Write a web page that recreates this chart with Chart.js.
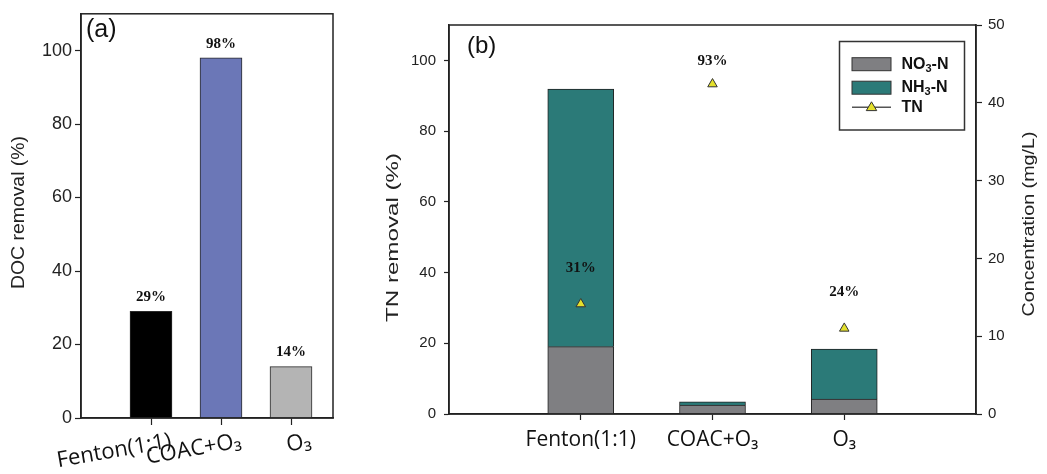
<!DOCTYPE html>
<html>
<head>
<meta charset="utf-8">
<script src="https://cdn.jsdelivr.net/npm/chart.js@4.4.1/dist/chart.umd.min.js"></script>
<style>
  html, body { margin: 0; padding: 0; background: #ffffff; }
  #wrap { position: relative; width: 1047px; height: 474px; overflow: hidden; }
  #ca { position: absolute; left: 0; top: 0; }
  #cb { position: absolute; left: 380px; top: 0; }
</style>
</head>
<body>
<div id="wrap">
  <canvas id="ca" width="380" height="474"></canvas>
  <canvas id="cb" width="667" height="474"></canvas>
</div>
<script>
// ---------------- data ----------------
const categories = ['Fenton(1:1)', 'COAC+O₃', 'O₃'];
const docRemoval = [29, 98, 14];
const docLabels = ['29%', '98%', '14%'];
const docColors = ['#000000', '#6b77b7', '#b4b4b4'];
const no3N = [8.65, 1.15, 1.93];
const nh3N = [33.1, 0.43, 6.42];
const tnRemoval = [31.1, 93.3, 24.2];
const tnLabels = ['31%', '93%', '24%'];
const removalTicksA = [0, 20, 40, 60, 80, 100];
const removalTicksB = [0, 20, 40, 60, 80, 100];
const concTicks = [0, 10, 20, 30, 40, 50];

Chart.defaults.font.family = '"Liberation Sans", Arial, sans-serif';
Chart.defaults.color = '#222';

const AXIS = '#222';

// draw text with subscript digits
const SUBS = '₀₁₂₃₄₅₆₇₈₉';
function drawRich(ctx, text, x, y, size, weight) {
  let cx = x;
  let buf = '';
  const flush = (sub) => {
    if (!buf) return;
    ctx.font = weight + ' ' + (sub ? Math.round(size * 0.68) : size) + 'px "Liberation Sans", Arial, sans-serif';
    ctx.fillText(buf, cx, y + (sub ? size * 0.28 : 0));
    cx += ctx.measureText(buf).width;
    buf = '';
  };
  let curSub = false;
  for (const ch of text) {
    const idx = SUBS.indexOf(ch);
    const isSub = idx >= 0;
    if (isSub !== curSub) { flush(curSub); curSub = isSub; }
    buf += isSub ? String(idx) : ch;
  }
  flush(curSub);
}

// ---------------- plugins ----------------
const framePlugin = {
  id: 'frame',
  afterDraw(chart) {
    const { ctx, chartArea: a } = chart;
    ctx.save();
    ctx.strokeStyle = AXIS;
    ctx.lineWidth = 1.5;
    ctx.strokeRect(a.left, a.top, a.right - a.left, a.bottom - a.top);
    ctx.restore();
  }
};

const valueLabels = {
  id: 'valueLabels',
  afterDatasetsDraw(chart, args, opts) {
    const meta = chart.getDatasetMeta(opts.datasetIndex);
    const ctx = chart.ctx;
    ctx.save();
    ctx.font = 'bold 15px "Liberation Serif", "Times New Roman", serif';
    ctx.fillStyle = '#111';
    ctx.textAlign = 'center';
    ctx.textBaseline = 'middle';
    meta.data.forEach((el, i) => {
      let y = el.y - opts.offset;
      if (opts.minTop != null) y = Math.max(y, chart.chartArea.top + opts.minTop);
      ctx.fillText(opts.labels[i], el.x, y);
    });
    ctx.restore();
  }
};

const axisTitles = {
  id: 'axisTitles',
  afterDraw(chart, args, opts) {
    const ctx = chart.ctx;
    (opts.items || []).forEach(t => {
      ctx.save();
      ctx.font = t.size + 'px "Liberation Sans", Arial, sans-serif';
      ctx.fillStyle = '#222';
      ctx.textAlign = 'center';
      ctx.textBaseline = 'middle';
      ctx.translate(t.x, t.y);
      ctx.rotate(-Math.PI / 2);
      const w = ctx.measureText(t.text).width;
      ctx.scale(t.length / w, 1);
      ctx.fillText(t.text, 0, 0);
      ctx.restore();
    });
    if (opts.panel) {
      ctx.save();
      ctx.font = opts.panel.size + 'px "Liberation Sans", Arial, sans-serif';
      ctx.fillStyle = '#111';
      ctx.textAlign = 'left';
      ctx.textBaseline = 'middle';
      ctx.fillText(opts.panel.text, opts.panel.x, opts.panel.y);
      ctx.restore();
    }
  }
};

const boxLegend = {
  id: 'boxLegend',
  afterDraw(chart, args, opts) {
    const ctx = chart.ctx;
    const ds = chart.data.datasets;
    ctx.save();
    ctx.fillStyle = '#fff';
    ctx.fillRect(opts.x, opts.y, opts.w, opts.h);
    ctx.strokeStyle = '#333';
    ctx.lineWidth = 1.5;
    ctx.strokeRect(opts.x, opts.y, opts.w, opts.h);
    const sx = opts.x + 12.5, sw = 39;
    const rows = [64.2, 87.7, 107.3];
    ds.forEach((d, i) => {
      const cy = rows[i];
      if (d.type === 'line') {
        ctx.strokeStyle = '#555';
        ctx.lineWidth = 1.5;
        ctx.beginPath(); ctx.moveTo(sx, cy); ctx.lineTo(sx + sw, cy); ctx.stroke();
        const r = 5.5, tx = sx + sw / 2;
        ctx.beginPath();
        ctx.moveTo(tx, cy - r);
        ctx.lineTo(tx + r * 0.95, cy + r * 0.6);
        ctx.lineTo(tx - r * 0.95, cy + r * 0.6);
        ctx.closePath();
        ctx.fillStyle = d.backgroundColor; ctx.fill();
        ctx.strokeStyle = '#333'; ctx.lineWidth = 1; ctx.stroke();
      } else {
        ctx.fillStyle = d.backgroundColor;
        ctx.fillRect(sx, cy - 6.5, sw, 13);
        ctx.strokeStyle = '#333'; ctx.lineWidth = 1;
        ctx.strokeRect(sx, cy - 6.5, sw, 13);
      }
      ctx.fillStyle = '#111';
      ctx.textAlign = 'left';
      ctx.textBaseline = 'middle';
      drawRich(ctx, d.label, opts.x + 62, cy, 16, 'bold');
    });
    ctx.restore();
  }
};

// ---------------- chart (a) ----------------
new Chart(document.getElementById('ca'), {
  type: 'bar',
  data: {
    datasets: [{
      label: 'DOC removal',
      data: docRemoval.map((v, i) => ({ x: i + 1, y: v })),
      backgroundColor: docColors,
      borderColor: '#2a2a2a',
      borderWidth: 1,
      barThickness: 42
    }]
  },
  options: {
    responsive: false,
    animation: false,
    layout: { padding: { top: 7, right: 47, left: 0, bottom: 0 } },
    scales: {
      x: {
        type: 'linear', min: 0, max: 3.6, offset: false,
        afterBuildTicks: s => { s.ticks = categories.map((c, i) => ({ value: i + 1 })); },
        afterFit: s => { s.height = 56; },
        ticks: {
          callback: v => categories[v - 1],
          autoSkip: false, minRotation: 10, maxRotation: 10,
          labelOffset: 20, padding: 3,
          font: { family: '"Open Sans", sans-serif', size: 22 }, color: '#111'
        },
        grid: { offset: false, drawOnChartArea: false, tickLength: 7, color: AXIS, tickWidth: 1.2 },
        border: { color: AXIS, width: 1.5 }
      },
      y: {
        min: 0, max: 110,
        afterBuildTicks: s => { s.ticks = removalTicksA.map(v => ({ value: v })); },
        afterFit: s => { s.width = 81; },
        ticks: { padding: 3, font: { size: 18 }, color: '#222' },
        grid: { drawOnChartArea: false, tickLength: 6, color: AXIS, tickWidth: 1.2 },
        border: { color: AXIS, width: 1.5 }
      }
    },
    plugins: {
      legend: { display: false },
      tooltip: { enabled: false },
      valueLabels: { datasetIndex: 0, labels: docLabels, offset: 14 },
      axisTitles: {
        items: [{ text: 'DOC removal (%)', x: 19, y: 212.5, size: 19, length: 153 }],
        panel: { text: '(a)', x: 86, y: 30, size: 25 }
      }
    }
  },
  plugins: [framePlugin, valueLabels, axisTitles]
});

// ---------------- chart (b) ----------------
new Chart(document.getElementById('cb'), {
  type: 'bar',
  data: {
    datasets: [
      {
        label: 'NO₃-N',
        data: no3N.map((v, i) => ({ x: i + 1, y: v })),
        backgroundColor: '#7f7f82', borderColor: '#222', borderWidth: 1,
        barThickness: 66, stack: 'n', yAxisID: 'y1', order: 1
      },
      {
        label: 'NH₃-N',
        data: nh3N.map((v, i) => ({ x: i + 1, y: v })),
        backgroundColor: '#2b7a78', borderColor: '#222', borderWidth: 1,
        barThickness: 66, stack: 'n', yAxisID: 'y1', order: 1
      },
      {
        type: 'line',
        label: 'TN',
        data: tnRemoval.map((v, i) => ({ x: i + 1, y: v })),
        showLine: false, yAxisID: 'y', order: 0,
        pointStyle: 'triangle', pointRadius: 5.5,
        backgroundColor: '#e4e02c', borderColor: '#333', borderWidth: 1
      }
    ]
  },
  options: {
    responsive: false,
    animation: false,
    layout: { padding: { top: 25, right: 0, left: 0, bottom: 0 } },
    scales: {
      x: {
        type: 'linear', min: 0, max: 4, stacked: true, offset: false,
        afterBuildTicks: s => { s.ticks = categories.map((c, i) => ({ value: i + 1 })); },
        afterFit: s => { s.height = 60; },
        ticks: {
          callback: v => categories[v - 1],
          autoSkip: false, maxRotation: 0, minRotation: 0, padding: 7,
          font: { family: '"Open Sans", sans-serif', size: 21 }, color: '#111'
        },
        grid: { offset: false, drawOnChartArea: false, tickLength: 6, color: AXIS, tickWidth: 1.2 },
        border: { color: AXIS, width: 1.5 }
      },
      y: {
        position: 'left', min: 0, max: 110,
        afterBuildTicks: s => { s.ticks = removalTicksB.map(v => ({ value: v })); },
        afterFit: s => { s.width = 69; },
        ticks: { padding: 8, font: { size: 15 }, color: '#222' },
        grid: { drawOnChartArea: false, tickLength: 5, color: AXIS, tickWidth: 1.2 },
        border: { color: AXIS, width: 1.5 }
      },
      y1: {
        position: 'right', min: 0, max: 50, stacked: true,
        afterBuildTicks: s => { s.ticks = concTicks.map(v => ({ value: v })); },
        afterFit: s => { s.width = 71; },
        ticks: { padding: 6, font: { size: 15 }, color: '#222' },
        grid: { drawOnChartArea: false, tickLength: 6, color: AXIS, tickWidth: 1.2 },
        border: { color: AXIS, width: 1.5 }
      }
    },
    plugins: {
      legend: { display: false },
      tooltip: { enabled: false },
      valueLabels: { datasetIndex: 2, labels: tnLabels, offset: 36, minTop: 36 },
      axisTitles: {
        items: [
          { text: 'TN removal (%)', x: 13.5, y: 237.5, size: 17, length: 169 },
          { text: 'Concentration (mg/L)', x: 650, y: 224, size: 16, length: 185 }
        ],
        panel: { text: '(b)', x: 87, y: 46, size: 24 }
      },
      boxLegend: { x: 459.5, y: 41.5, w: 125, h: 88.5 }
    }
  },
  plugins: [framePlugin, valueLabels, axisTitles, boxLegend]
});
</script>
</body>
</html>
